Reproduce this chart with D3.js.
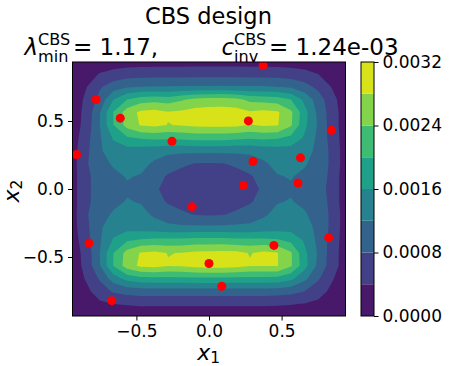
<!DOCTYPE html>
<html>
<head>
<meta charset="UTF-8">
<script src="https://d3js.org/d3.v7.min.js"></script>
<style>
  body { margin: 0; background: #fff; }
  text { font-family: "DejaVu Sans", sans-serif; fill: #000; }
</style>
</head>
<body>
<svg id="chart" width="458" height="366"></svg>
<script>
// grid where the density was sampled
const gridX = [-0.94, -0.846, -0.752, -0.658, -0.564, -0.47, -0.376, -0.282, -0.188, -0.094, 0,
               0.094, 0.188, 0.282, 0.376, 0.47, 0.564, 0.658, 0.752, 0.846, 0.94];
const gridY = [0.94, 0.846, 0.752, 0.658, 0.564, 0.47, 0.376, 0.282, 0.188, 0.094, 0,
               -0.094, -0.188, -0.282, -0.376, -0.47, -0.564, -0.658, -0.752, -0.846, -0.94];

// density, in units of 1e-4, one row per gridY value (top to bottom)
const density = [
  [0.5, 1.0, 1.5, 1.8, 2.0, 2.1, 2.1, 2.1, 2.2, 2.2, 2.2, 2.2, 2.2, 2.1, 2.1, 2.1, 2.0, 1.8, 1.4, 1.0, 0.5],
  [1.0, 2.5, 4.2, 5.3, 6.0, 6.3, 6.4, 6.4, 6.4, 6.5, 6.5, 6.5, 6.5, 6.4, 6.4, 6.3, 5.9, 5.2, 4.0, 2.5, 1.0],
  [1.2, 3.8, 7.5, 10.0, 11.5, 12.0, 12.2, 12.2, 12.3, 12.4, 12.4, 12.5, 12.4, 12.3, 12.3, 12.0, 11.3, 9.5, 7.0, 3.8, 1.2],
  [1.5, 4.8, 9.3, 16.0, 20.0, 22.0, 22.5, 22.0, 23.5, 25.0, 25.5, 25.5, 25.0, 23.0, 22.5, 22.0, 20.0, 15.0, 10.0, 5.5, 1.5],
  [1.8, 5.2, 11.8, 20.2, 26.0, 28.8, 29.3, 28.3, 28.8, 29.5, 29.8, 30.0, 29.6, 28.4, 29.0, 28.6, 24.8, 17.5, 11.0, 6.0, 2.0],
  [1.8, 5.5, 12.0, 20.0, 25.5, 28.3, 28.8, 27.9, 28.2, 28.8, 29.0, 29.0, 28.8, 27.8, 28.6, 28.3, 24.5, 17.0, 11.5, 6.0, 2.0],
  [2.0, 6.5, 11.5, 16.5, 19.5, 20.5, 21.0, 20.8, 21.0, 21.5, 21.5, 21.5, 21.0, 20.5, 21.0, 20.5, 19.0, 15.5, 11.0, 6.5, 2.0],
  [2.5, 7.0, 11.5, 14.0, 14.5, 14.0, 13.5, 13.0, 13.0, 13.0, 13.0, 13.0, 13.0, 13.0, 13.5, 14.0, 14.3, 13.5, 11.0, 7.0, 2.0],
  [2.5, 7.5, 10.8, 12.4, 13.5, 13.0, 11.5, 9.8, 8.6, 7.9, 7.8, 7.9, 8.6, 9.8, 11.5, 13.0, 13.5, 12.4, 10.5, 7.2, 2.0],
  [2.5, 7.0, 10.0, 11.3, 12.2, 11.8, 9.5, 7.6, 6.8, 6.4, 6.3, 6.4, 6.8, 7.6, 9.5, 11.8, 12.2, 11.3, 10.0, 7.0, 1.5],
  [2.5, 7.2, 9.5, 10.8, 11.6, 10.5, 8.5, 7.0, 6.2, 5.8, 5.7, 5.8, 6.2, 7.0, 8.5, 10.8, 11.6, 10.8, 9.3, 7.0, 1.5],
  [2.5, 7.0, 10.0, 11.3, 12.2, 11.8, 9.5, 7.6, 6.8, 6.4, 6.3, 6.4, 6.8, 7.6, 9.5, 11.8, 12.2, 11.3, 10.0, 7.0, 1.5],
  [2.5, 7.5, 10.8, 12.4, 13.5, 13.0, 11.5, 9.8, 8.6, 7.8, 7.6, 7.8, 8.6, 9.8, 11.5, 13.0, 13.5, 12.4, 10.5, 7.2, 2.0],
  [2.5, 7.0, 11.5, 14.0, 14.5, 14.0, 13.5, 13.0, 12.8, 12.8, 12.8, 12.8, 13.0, 13.0, 13.5, 14.0, 14.3, 13.5, 11.0, 7.0, 2.0],
  [2.0, 6.5, 11.5, 16.5, 19.5, 20.5, 21.0, 21.0, 21.0, 21.5, 21.5, 21.5, 21.0, 21.0, 21.0, 20.5, 19.0, 15.5, 11.0, 6.5, 2.0],
  [1.8, 5.5, 12.0, 20.0, 25.5, 28.3, 28.8, 27.9, 28.1, 28.8, 29.0, 29.2, 29.0, 27.8, 28.8, 28.2, 24.5, 17.0, 11.5, 6.0, 2.0],
  [1.8, 5.2, 11.8, 20.2, 26.0, 28.8, 29.3, 28.2, 28.5, 29.3, 29.8, 29.8, 29.3, 28.3, 28.2, 28.2, 24.5, 17.5, 11.0, 6.0, 2.0],
  [1.4, 4.4, 8.5, 14.0, 17.5, 18.8, 19.0, 19.0, 19.0, 19.2, 19.2, 19.2, 19.0, 19.0, 19.0, 18.8, 17.0, 13.0, 8.5, 4.5, 1.2],
  [0.9, 3.0, 6.0, 8.5, 9.5, 10.0, 10.0, 10.0, 10.0, 10.1, 10.1, 10.1, 10.0, 10.0, 10.0, 9.8, 9.3, 8.0, 5.8, 3.0, 0.9],
  [0.6, 1.8, 3.2, 4.0, 4.3, 4.5, 4.5, 4.5, 4.5, 4.5, 4.5, 4.5, 4.5, 4.5, 4.5, 4.4, 4.2, 3.8, 3.0, 1.8, 0.6],
  [0.3, 0.7, 1.1, 1.3, 1.4, 1.5, 1.5, 1.5, 1.5, 1.5, 1.5, 1.5, 1.5, 1.5, 1.5, 1.5, 1.4, 1.3, 1.1, 0.7, 0.3]
];

// contour levels, same 1e-4 units
const levels = [0, 4, 8, 12, 16, 20, 24, 28, 32];

// design points
const ptX = [0.373, -0.778, -0.611, 0.271, 0.843, -0.255, -0.912, 0.303, 0.630,
             0.236, 0.613, -0.116, -0.826, 0.447, 0.824, 0.0, 0.088, -0.669];
const ptY = [0.909, 0.658, 0.521, 0.501, 0.432, 0.351, 0.253, 0.204, 0.229,
             0.027, 0.044, -0.130, -0.398, -0.415, -0.359, -0.548, -0.715, -0.821];

const xTicks = [-0.5, 0.0, 0.5];
const yTicks = [-0.5, 0.0, 0.5];
const cbTicks = [0, 8, 16, 24, 32];

const svg = d3.select("#chart");
const pLeft = 72.5, pRight = 345.5, pTop = 62, pBottom = 316;

const x = d3.scaleLinear().domain([-0.94, 0.94]).range([pLeft, pRight]);
const y = d3.scaleLinear().domain([-0.934, 0.934]).range([pBottom, pTop]);
const color = i => d3.interpolateViridis((i + 0.5) / (levels.length - 1));

svg.append("clipPath").attr("id", "plotclip")
  .append("rect").attr("x", pLeft).attr("y", pTop)
  .attr("width", pRight - pLeft).attr("height", pBottom - pTop);

const plot = svg.append("g").attr("clip-path", "url(#plotclip)");

plot.append("rect")
  .attr("x", pLeft).attr("y", pTop)
  .attr("width", pRight - pLeft).attr("height", pBottom - pTop)
  .attr("fill", color(0));

// grid index -> data -> pixel
const gx = d3.scaleLinear().domain([0.5, gridX.length - 0.5]).range([x(gridX[0]), x(gridX[gridX.length - 1])]);
const gy = d3.scaleLinear().domain([0.5, gridY.length - 0.5]).range([y(gridY[0]), y(gridY[gridY.length - 1])]);
const proj = d3.geoTransform({ point(px, py) { this.stream.point(gx(px), gy(py)); } });
const path = d3.geoPath(proj);

const bands = d3.contours()
  .size([gridX.length, gridY.length])
  .thresholds(levels.slice(1, -1))(density.flat());

plot.selectAll("path.band")
  .data(bands)
  .enter().append("path")
  .attr("class", "band")
  .attr("d", path)
  .attr("fill", (d, i) => color(i + 1));

plot.selectAll("circle")
  .data(ptX.map((v, i) => [v, ptY[i]]))
  .enter().append("circle")
  .attr("cx", d => x(d[0]))
  .attr("cy", d => y(d[1]))
  .attr("r", 4.5)
  .attr("fill", "#ff0000");

// axes
const fmt = d3.format(".1f");
const xAxis = svg.append("g")
  .attr("transform", `translate(0,${pBottom})`)
  .call(d3.axisBottom(x).tickValues(xTicks).tickFormat(fmt).tickSize(4.5).tickPadding(4));
const yAxis = svg.append("g")
  .attr("transform", `translate(${pLeft},0)`)
  .call(d3.axisLeft(y).tickValues(yTicks).tickFormat(fmt).tickSize(4.5).tickPadding(4));
[xAxis, yAxis].forEach(a => {
  a.select(".domain").remove();
  a.selectAll("text").style("font-size", "17px").attr("fill", "#000");
  a.selectAll("line").attr("stroke", "#000").attr("stroke-width", 1);
});

svg.append("rect")
  .attr("x", pLeft).attr("y", pTop)
  .attr("width", pRight - pLeft).attr("height", pBottom - pTop)
  .attr("fill", "none").attr("stroke", "#000").attr("stroke-width", 1);

// colorbar
const cbLeft = 361, cbW = 13;
const cbY = d3.scaleLinear().domain([levels[0], levels[levels.length - 1]]).range([pBottom, pTop]);
svg.selectAll("rect.cb")
  .data(d3.pairs(levels))
  .enter().append("rect")
  .attr("class", "cb")
  .attr("x", cbLeft)
  .attr("y", d => cbY(d[1]))
  .attr("width", cbW)
  .attr("height", d => cbY(d[0]) - cbY(d[1]))
  .attr("fill", (d, i) => color(i));
svg.append("rect")
  .attr("x", cbLeft).attr("y", pTop)
  .attr("width", cbW).attr("height", pBottom - pTop)
  .attr("fill", "none").attr("stroke", "#000").attr("stroke-width", 1);
const cbAxis = svg.append("g")
  .attr("transform", `translate(${cbLeft + cbW},0)`)
  .call(d3.axisRight(cbY).tickValues(cbTicks).tickFormat(v => d3.format(".4f")(v * 1e-4)).tickSize(4.5).tickPadding(4));
cbAxis.select(".domain").remove();
cbAxis.selectAll("text").style("font-size", "17px").attr("fill", "#000");
cbAxis.selectAll("line").attr("stroke", "#000");

// mathtext-like line: one <text>, scripts stacked with tspans, centred at cx
function measure(str, fs) {
  const m = svg.append("text").style("font-size", fs + "px").text(str);
  const w = m.node().getComputedTextLength();
  m.remove();
  return w;
}
function mathLine(parts, cx, baseline, size) {
  const t = svg.append("text").attr("x", 0).attr("y", baseline).style("font-size", size + "px");
  const s = size * 0.7, up = size * 0.43, down = size * 0.29;
  let dx = 0, dy = 0;
  parts.forEach(p => {
    if (p.gap) { dx += p.gap * size; return; }
    if (p.sup !== undefined) {
      const wSup = measure(p.sup, s), wSub = measure(p.sub, s);
      t.append("tspan").attr("dx", dx).attr("dy", dy - up).style("font-size", s + "px").text(p.sup);
      t.append("tspan").attr("dx", -wSup).attr("dy", up + down).style("font-size", s + "px").text(p.sub);
      dx = Math.max(0, wSup - wSub);
      dy = -down;
      return;
    }
    t.append("tspan").attr("dx", dx).attr("dy", dy)
      .style("font-style", p.it ? "italic" : "normal").text(p.t);
    dx = 0; dy = 0;
  });
  const bb = t.node().getBBox();
  t.attr("transform", `translate(${cx - bb.x - bb.width / 2},0)`);
  return t;
}

svg.append("text")
  .attr("x", 208.5).attr("y", 23.5)
  .attr("text-anchor", "middle")
  .style("font-size", "22.5px")
  .text("CBS design");

mathLine([
  { t: "λ", it: true },
  { sup: "CBS", sub: "min" },
  { gap: 0.12 },
  { t: "= 1.17," },
  { gap: 2.75 },
  { t: "c", it: true },
  { sup: "CBS", sub: "inv" },
  { gap: 0.12 },
  { t: "= 1.24e-03" }
], 210.5, 55, 23);

// axis labels
const xl = svg.append("text")
  .attr("x", 208.7).attr("y", 359.5)
  .attr("text-anchor", "middle")
  .style("font-size", "22px");
xl.append("tspan").style("font-style", "italic").text("x");
xl.append("tspan").attr("dy", 3).style("font-size", "15.4px").text("1");

const yl = svg.append("text")
  .attr("transform", "translate(19,191) rotate(-90)")
  .attr("text-anchor", "middle")
  .style("font-size", "22px");
yl.append("tspan").style("font-style", "italic").text("x");
yl.append("tspan").attr("dy", 3).style("font-size", "15.4px").text("2");
</script>
</body>
</html>
